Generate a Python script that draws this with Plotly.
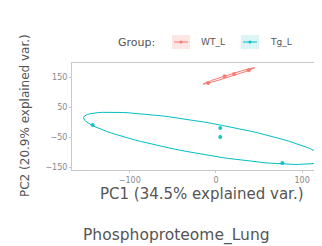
import numpy as np
import plotly.graph_objects as go

groups = ["WT_L", "Tg_L"]
colors = ["#F8766D", "#00BFC4"]
key_fills = ["#fde6e4", "#dcf4f5"]
wt_pc1 = [-9, 10, 21, 38]
wt_pc2 = [130, 153, 160, 173]
tg_pc1 = [-143, 5, 5, 77]
tg_pc2 = [-10, -20, -50, -137]
x_ticks = [-100, 0, 100]
y_ticks = [-150, -50, 50, 150]
ellipse_prob = 0.68

FONT = "DejaVu Sans, Liberation Sans, sans-serif"
fig = go.Figure()
ed = np.sqrt(-2 * np.log(1 - ellipse_prob))
theta = np.linspace(-np.pi, np.pi, 100)
circle = np.column_stack([np.cos(theta), np.sin(theta)])
for name, col, xs, ys in [(groups[0], colors[0], wt_pc1, wt_pc2),
                          (groups[1], colors[1], tg_pc1, tg_pc2)]:
    xs = np.array(xs, float); ys = np.array(ys, float)
    sigma = np.cov(np.vstack([xs, ys]))
    L = np.linalg.cholesky(sigma)
    ell = circle @ L.T * ed + np.array([xs.mean(), ys.mean()])
    fig.add_trace(go.Scatter(x=ell[:, 0], y=ell[:, 1], mode="lines",
                             line=dict(color=col, width=1), showlegend=False,
                             hoverinfo="skip"))
    fig.add_trace(go.Scatter(x=xs, y=ys, mode="markers", name=name, showlegend=False,
                             marker=dict(color=col, size=4, opacity=0.9)))

axis_common = dict(showgrid=False, zeroline=False, showline=True, mirror=True,
                   linecolor="#c8c8c8", linewidth=1, ticks="outside", ticklen=2,
                   tickcolor="#c8c8c8", tickfont=dict(size=8, color="#888888", family=FONT))
fig.update_xaxes(range=[-167, 123], tickvals=x_ticks, **axis_common)
fig.update_yaxes(range=[-160, 197], tickvals=y_ticks, **axis_common)

# page body has an 8px margin: reference pixel p maps to figure pixel p-8
def px_x(p): return (p - 72) / 250
def px_y(p): return (170 - p) / 107

shapes = []
annotations = [
    dict(text="Group:", xref="paper", yref="paper", x=px_x(116), y=px_y(42),
         xanchor="left", yanchor="middle", showarrow=False,
         font=dict(size=11, color="#555555", family=FONT)),
]
key_left = [172, 241]
for i, (name, col, fill) in enumerate(zip(groups, colors, key_fills)):
    x0 = key_left[i]
    shapes.append(dict(type="rect", xref="paper", yref="paper",
                       x0=px_x(x0), x1=px_x(x0 + 18), y0=px_y(49), y1=px_y(35),
                       fillcolor=fill, line=dict(width=0), layer="above"))
    shapes.append(dict(type="line", xref="paper", yref="paper",
                       x0=px_x(x0 + 2), x1=px_x(x0 + 16), y0=px_y(42), y1=px_y(42),
                       line=dict(color=col, width=1), layer="above"))
    shapes.append(dict(type="circle", xref="paper", yref="paper",
                       x0=px_x(x0 + 7.5), x1=px_x(x0 + 10.5), y0=px_y(43.5), y1=px_y(40.5),
                       fillcolor=col, line=dict(width=0), layer="above"))
    annotations.append(dict(text=name, xref="paper", yref="paper",
                            x=px_x(x0 + 27), y=px_y(42), xanchor="left", yanchor="middle",
                            showarrow=False, font=dict(size=9, color="#555555", family=FONT)))

annotations += [
    dict(text="PC1 (34.5% explained var.)", xref="paper", yref="paper",
         x=px_x(202), y=px_y(194), xanchor="center", yanchor="middle", showarrow=False,
         font=dict(size=15, color="#555555", family=FONT)),
    dict(text="PC2 (20.9% explained var.)", xref="paper", yref="paper",
         x=px_x(25), y=px_y(116), xanchor="center", yanchor="middle", showarrow=False,
         textangle=-90, font=dict(size=12, color="#555555", family=FONT)),
    dict(text="Phosphoproteome_Lung", xref="paper", yref="paper",
         x=px_x(176), y=px_y(235), xanchor="center", yanchor="middle", showarrow=False,
         font=dict(size=15.5, color="#555555", family=FONT)),
]

fig.update_layout(
    width=314, height=238,
    margin=dict(l=64, r=0, t=55, b=76, autoexpand=False),
    paper_bgcolor="white", plot_bgcolor="white",
    font=dict(family=FONT, color="#555555"),
    showlegend=False,
    shapes=shapes, annotations=annotations,
)
fig.write_html("out.html")
